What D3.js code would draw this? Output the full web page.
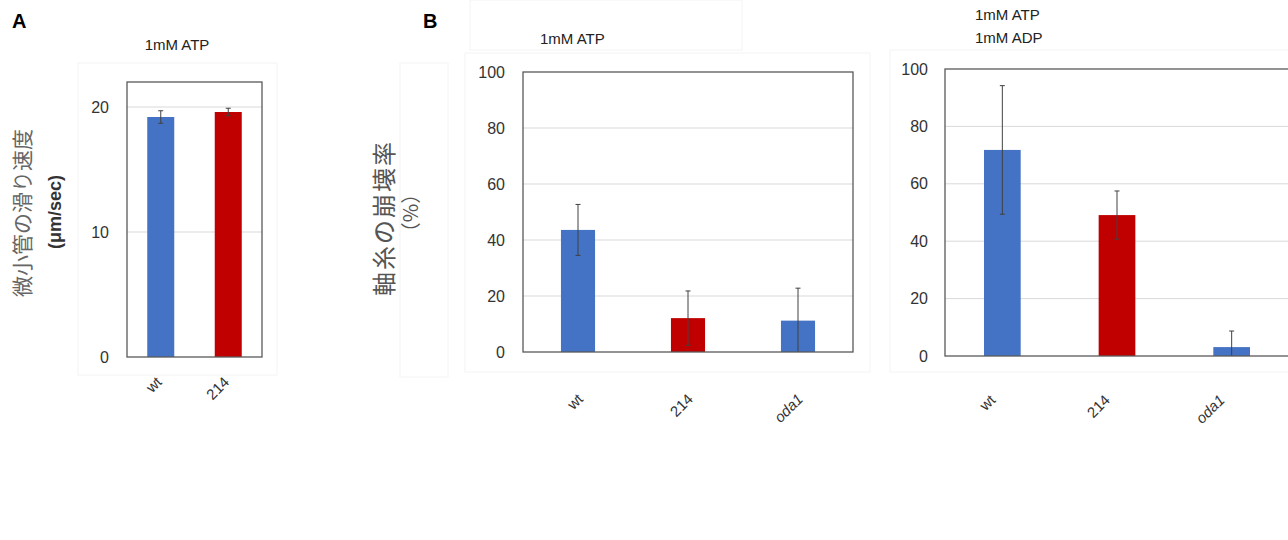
<!DOCTYPE html>
<html>
<head>
<meta charset="utf-8">
<script src="https://cdn.jsdelivr.net/npm/d3@7"></script>
<style>
  body { margin: 0; background: #fff; }
  svg { font-family: "Liberation Sans", Arial, sans-serif; }
</style>
</head>
<body>
<div id="chart"></div>
<script>
// Datos
const catsA = ["wt", "214"];
const velocidadA = [19.2, 19.6];
const errorA = [0.5, 0.3];

const catsB = ["wt", "214", "oda1"];
const colapsoATP = [43.6, 12.1, 11.2];
const errorATP = [9.1, 9.7, 11.6];
const colapsoADP = [71.8, 49.1, 3.1];
const errorADP = [22.4, 8.4, 5.6];

const coloresA = ["#4472C4", "#C00000"];
const coloresB = ["#4472C4", "#C00000", "#4472C4"];

const svg = d3.select("#chart").append("svg")
    .attr("width", 1288)
    .attr("height", 540);

// Cajas tenues del fondo
const cajas = [[78, 63, 199, 312], [400, 63, 48, 314], [465, 53, 405, 319], [470, 0, 272, 50], [890, 50, 400, 322]];
svg.selectAll(".caja").data(cajas).enter().append("rect")
    .attr("x", d => d[0]).attr("y", d => d[1])
    .attr("width", d => d[2]).attr("height", d => d[3])
    .attr("fill", "none").attr("stroke", "#f4f4f4");

// Funcion para dibujar un panel de barras
function panel(opt) {
    const g = svg.append("g").attr("transform", `translate(${opt.left},${opt.top})`);
    const w = opt.width, h = opt.height;
    const x = d3.scaleBand().domain(opt.cats).range([0, w]).paddingInner(opt.pad).paddingOuter(opt.pad / 2);
    const y = d3.scaleLinear().domain([0, opt.max]).range([h, 0]);

    // lineas de la grilla
    g.selectAll(".grid").data(opt.grid).enter().append("line")
        .attr("x1", 0).attr("x2", w)
        .attr("y1", d => y(d)).attr("y2", d => y(d))
        .attr("stroke", "#d9d9d9").attr("stroke-width", 1);

    // eje y
    const yAxis = g.append("g")
        .call(d3.axisLeft(y).tickValues(opt.ticks).tickSize(0).tickPadding(opt.tickPad));
    yAxis.select(".domain").remove();
    yAxis.selectAll("text")
        .attr("font-size", 16).attr("fill", "#333")
        .attr("font-family", "Liberation Sans, Arial, sans-serif");

    // barras
    g.selectAll(".bar").data(opt.values).enter().append("rect")
        .attr("x", (d, i) => x(opt.cats[i]))
        .attr("y", d => y(d))
        .attr("width", x.bandwidth())
        .attr("height", d => h - y(d))
        .attr("fill", (d, i) => opt.colors[i]);

    // barras de error
    opt.values.forEach((v, i) => {
        const cx = x(opt.cats[i]) + x.bandwidth() / 2;
        const lo = Math.max(0, v - opt.err[i]), hi = v + opt.err[i];
        g.append("line").attr("x1", cx).attr("x2", cx)
            .attr("y1", y(lo)).attr("y2", y(hi))
            .attr("stroke", "#404040").attr("stroke-width", 1);
        [lo, hi].forEach(e => {
            if (e === 0) return;
            g.append("line").attr("x1", cx - 2.5).attr("x2", cx + 2.5)
                .attr("y1", y(e)).attr("y2", y(e))
                .attr("stroke", "#404040").attr("stroke-width", 1);
        });
    });

    // marco
    g.append("rect").attr("x", 0).attr("y", 0).attr("width", w).attr("height", h)
        .attr("fill", "none").attr("stroke", "#595959").attr("stroke-width", 1.3);

    // etiquetas rotadas
    opt.cats.forEach((c, i) => {
        const cx = x(c) + x.bandwidth() / 2 + opt.lblDx;
        g.append("text")
            .attr("transform", `translate(${cx},${h + opt.lblDy}) rotate(-45)`)
            .attr("text-anchor", "end")
            .attr("font-size", 15)
            .attr("fill", "#333")
            .attr("font-style", c === "oda1" ? "italic" : "normal")
            .text(c);
    });
    return g;
}

// Panel A
panel({ left: 127, top: 82, width: 135, height: 275, cats: catsA, values: velocidadA, err: errorA,
    colors: coloresA, max: 22, grid: [10, 20], ticks: [0, 10, 20], pad: 0.6, tickPad: 18, lblDx: 2, lblDy: 26 });

// Panel B izquierda
panel({ left: 523, top: 72, width: 330, height: 280, cats: catsB, values: colapsoATP, err: errorATP,
    colors: coloresB, max: 100, grid: [20, 40, 60, 80], ticks: [0, 20, 40, 60, 80, 100], pad: 0.69, tickPad: 18, lblDx: 6, lblDy: 48 });

// Panel B derecha
panel({ left: 945, top: 69, width: 344, height: 287, cats: catsB, values: colapsoADP, err: errorADP,
    colors: coloresB, max: 100, grid: [20, 40, 60, 80], ticks: [0, 20, 40, 60, 80, 100], pad: 0.68, tickPad: 17, lblDx: -6, lblDy: 45 });

// Letras de panel
svg.append("text").attr("x", 12).attr("y", 28).attr("font-size", 20).attr("font-weight", "bold").text("A");
svg.append("text").attr("x", 423).attr("y", 28).attr("font-size", 20).attr("font-weight", "bold").text("B");

// Titulos
svg.append("text").attr("x", 177).attr("y", 50).attr("text-anchor", "middle").attr("font-size", 15).attr("fill", "#222").text("1mM ATP");
svg.append("text").attr("x", 540).attr("y", 44).attr("font-size", 15).attr("fill", "#222").text("1mM ATP");
svg.append("text").attr("x", 975).attr("y", 20).attr("font-size", 15).attr("fill", "#222").text("1mM ATP");
svg.append("text").attr("x", 975).attr("y", 43).attr("font-size", 15).attr("fill", "#222").text("1mM ADP");

// Titulos de ejes y
const jp = "Noto Sans CJK JP, sans-serif";
svg.append("text").attr("transform", "translate(30,213) rotate(-90)")
    .attr("text-anchor", "middle").attr("font-size", 21).attr("font-family", jp).attr("fill", "#666")
    .text("微小管の滑り速度");
svg.append("text").attr("transform", "translate(61,212) rotate(-90)")
    .attr("text-anchor", "middle").attr("font-size", 18).attr("font-weight", "bold").attr("fill", "#333")
    .text("(μm/sec)");
svg.append("text").attr("transform", "translate(393,218) rotate(-90)")
    .attr("text-anchor", "middle").attr("font-size", 24).attr("letter-spacing", 2).attr("font-family", jp).attr("fill", "#555")
    .text("軸糸の崩壊率");
svg.append("text").attr("transform", "translate(418,213) rotate(-90)")
    .attr("text-anchor", "middle").attr("font-size", 20).attr("font-family", jp).attr("fill", "#555")
    .text("（%）");
</script>
</body>
</html>
